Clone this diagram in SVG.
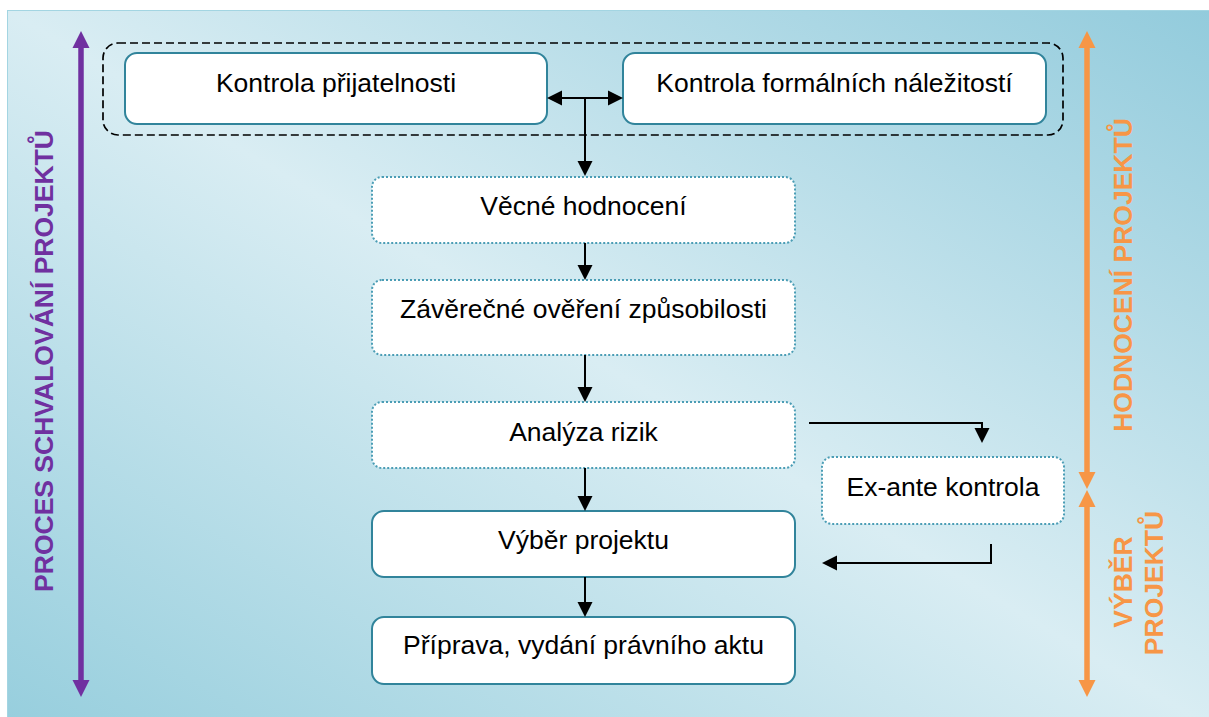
<svg xmlns="http://www.w3.org/2000/svg" width="1209" height="717" viewBox="0 0 1209 717">
  <defs>
    <linearGradient id="bg" x1="0" y1="1" x2="1" y2="0">
      <stop offset="0" stop-color="#96cedd"/>
      <stop offset="0.5" stop-color="#d9edf3"/>
      <stop offset="1" stop-color="#92cbdc"/>
    </linearGradient>
    <marker id="ah" markerUnits="userSpaceOnUse" markerWidth="15" markerHeight="15" refX="0" refY="7.5" orient="auto-start-reverse" overflow="visible">
      <path d="M0,0 L15,7.5 L0,15 z" fill="#000"/>
    </marker>
    <marker id="ahP" markerUnits="userSpaceOnUse" markerWidth="17" markerHeight="17" refX="0" refY="8.5" orient="auto-start-reverse" overflow="visible">
      <path d="M0,0 L17,8.5 L0,17 z" fill="#7030a0"/>
    </marker>
    <marker id="ahO" markerUnits="userSpaceOnUse" markerWidth="17" markerHeight="17" refX="0" refY="8.5" orient="auto-start-reverse" overflow="visible">
      <path d="M0,0 L17,8.5 L0,17 z" fill="#f79646"/>
    </marker>
  </defs>
  <style>
    .box { fill: #ffffff; stroke: #31849b; stroke-width: 2; }
    .dot { fill: #ffffff; stroke: #4b9db5; stroke-width: 2; stroke-dasharray: 2 2; }
    .lbl { font-family: "Liberation Sans", Arial, sans-serif; font-size: 26.5px; fill: #000; text-anchor: middle; }
    .side { font-family: "Liberation Sans", Arial, sans-serif; font-size: 26.5px; font-weight: bold; text-anchor: middle; }
    .conn { fill: none; stroke: #000; stroke-width: 2; }
  </style>

  <rect x="7.5" y="10.5" width="1210" height="720" fill="url(#bg)" stroke="#a3d5e2" stroke-width="1"/>

  <!-- side scale arrows and labels -->
  <g id="scale-proces">
    <line x1="81" y1="48" x2="81" y2="680" stroke="#7030a0" stroke-width="5.5" marker-start="url(#ahP)" marker-end="url(#ahP)"/>
    <text class="side" fill="#7030a0" transform="translate(53,361) rotate(-90)">PROCES SCHVALOVÁNÍ PROJEKTŮ</text>
  </g>
  <g id="scale-hodnoceni">
    <line x1="1087" y1="48" x2="1087" y2="472" stroke="#f79646" stroke-width="5.5" marker-start="url(#ahO)" marker-end="url(#ahO)"/>
    <text class="side" fill="#f79646" transform="translate(1132,275) rotate(-90)">HODNOCENÍ PROJEKTŮ</text>
  </g>
  <g id="scale-vyber">
    <line x1="1087" y1="507" x2="1087" y2="680" stroke="#f79646" stroke-width="5.5" marker-start="url(#ahO)" marker-end="url(#ahO)"/>
    <text class="side" fill="#f79646" transform="translate(1132,582) rotate(-90)">VÝBĚR</text>
    <text class="side" fill="#f79646" transform="translate(1163,583) rotate(-90)">PROJEKTŮ</text>
  </g>

  <!-- dashed group -->
  <g id="group-kontroly">
    <rect x="103" y="43" width="960" height="92" rx="15" fill="none" stroke="#000" stroke-width="1.7" stroke-dasharray="8 4"/>
  </g>

  <g id="kontrola-prijatelnosti">
    <rect class="box" x="125" y="53" width="422" height="71" rx="12"/>
    <text class="lbl" x="336" y="92">Kontrola přijatelnosti</text>
  </g>
  <g id="kontrola-formalnich">
    <rect class="box" x="623" y="53" width="423" height="71" rx="12"/>
    <text class="lbl" x="834.5" y="92">Kontrola formálních náležitostí</text>
  </g>
  <g id="vecne-hodnoceni">
    <rect class="dot" x="372" y="177" width="423" height="66" rx="10"/>
    <text class="lbl" x="583.5" y="215">Věcné hodnocení</text>
  </g>
  <g id="zaverecne-overeni">
    <rect class="dot" x="372" y="280" width="423" height="75" rx="10"/>
    <text class="lbl" x="583.5" y="318">Závěrečné ověření způsobilosti</text>
  </g>
  <g id="analyza-rizik">
    <rect class="dot" x="372" y="402" width="423" height="66" rx="10"/>
    <text class="lbl" x="583.5" y="441">Analýza rizik</text>
  </g>
  <g id="ex-ante">
    <rect class="dot" x="822" y="457" width="242" height="67" rx="10"/>
    <text class="lbl" x="943" y="496">Ex-ante kontrola</text>
  </g>
  <g id="vyber-projektu">
    <rect class="box" x="372" y="511" width="423" height="66" rx="12"/>
    <text class="lbl" x="583.5" y="549">Výběr projektu</text>
  </g>
  <g id="priprava">
    <rect class="box" x="372" y="617" width="423" height="67" rx="12"/>
    <text class="lbl" x="583.5" y="654">Příprava, vydání právního aktu</text>
  </g>

  <g id="connectors">
    <line class="conn" x1="562" y1="98" x2="608" y2="98" marker-start="url(#ah)" marker-end="url(#ah)"/>
    <line class="conn" x1="585" y1="98" x2="585" y2="161" marker-end="url(#ah)"/>
    <line class="conn" x1="585" y1="243" x2="585" y2="265" marker-end="url(#ah)"/>
    <line class="conn" x1="585" y1="355" x2="585" y2="387" marker-end="url(#ah)"/>
    <line class="conn" x1="585" y1="468" x2="585" y2="496" marker-end="url(#ah)"/>
    <line class="conn" x1="585" y1="577" x2="585" y2="602" marker-end="url(#ah)"/>
    <path class="conn" d="M809,423 H982 V428" marker-end="url(#ah)"/>
    <path class="conn" d="M991,544 V563 H837" marker-end="url(#ah)"/>
  </g>
</svg>
